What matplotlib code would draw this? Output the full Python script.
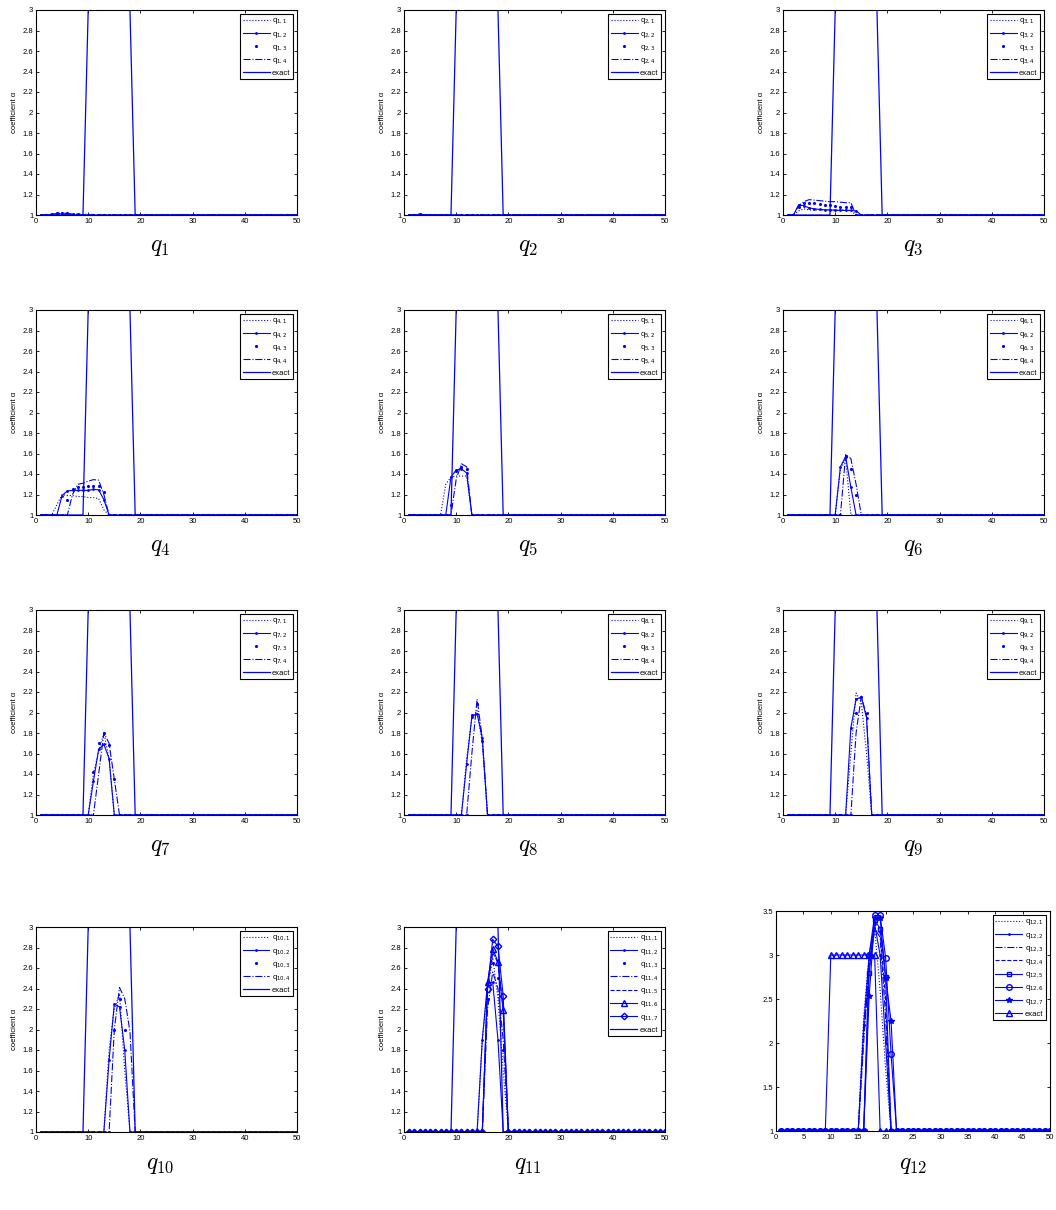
import numpy as np
import matplotlib.pyplot as plt

# x grid (iteration / node index) and exact coefficient
X = np.arange(1, 51)
EXACT = [1.0] * 9 + [3.0] * 9 + [1.0] * 32

# each reconstructed series: (first x of the bump, values); 1 elsewhere
q1 = [(3, [1.01, 1.015, 1.01, 1.01, 1.01, 1.01, 1.008, 1.008, 1.005]),
      (3, [1.005, 1.01, 1.01, 1.005]),
      (3, [1.012, 1.015, 1.02, 1.015, 1.012, 1.01]),
      (4, [1.015, 1.02, 1.015, 1.01])]
q2 = [(3, [1.01]), (3, [1.005]), (3, [1.008]), (3, [1.006])]
q3 = [(3, [1.04, 1.06, 1.05, 1.05, 1.05, 1.05, 1.05, 1.05, 1.05, 1.05, 1.04]),
      (3, [1.10, 1.09, 1.07, 1.06, 1.055, 1.05, 1.05, 1.045, 1.045, 1.045, 1.045, 1.04]),
      (3, [1.08, 1.12, 1.12, 1.12, 1.11, 1.10, 1.10, 1.09, 1.08, 1.08, 1.08]),
      (3, [1.09, 1.13, 1.15, 1.145, 1.14, 1.135, 1.13, 1.13, 1.125, 1.12, 1.12])]
q4 = [(4, [1.1, 1.2, 1.19, 1.19, 1.18, 1.18, 1.17, 1.17, 1.16, 1.05]),
      (5, [1.19, 1.235, 1.24, 1.24, 1.24, 1.24, 1.25, 1.245, 1.15]),
      (6, [1.15, 1.25, 1.27, 1.27, 1.28, 1.28, 1.28, 1.22]),
      (7, [1.2, 1.3, 1.31, 1.33, 1.345, 1.34, 1.2])]
q5 = [(8, [1.3, 1.37, 1.38, 1.38, 1.38]),
      (9, [1.37, 1.44, 1.45, 1.41]),
      (9, [1.1, 1.43, 1.47, 1.45]),
      (10, [1.35, 1.5, 1.47])]
q6 = [(11, [1.45, 1.55]),
      (11, [1.47, 1.57, 1.27]),
      (12, [1.58, 1.45, 1.2]),
      (12, [1.59, 1.55, 1.3])]
q7 = [(11, [1.4, 1.62, 1.8, 1.55]),
      (11, [1.33, 1.64, 1.69, 1.55]),
      (11, [1.42, 1.7, 1.8, 1.68, 1.35]),
      (12, [1.4, 1.8, 1.7, 1.35])]
q8 = [(12, [1.55, 1.95, 2.02, 1.7]),
      (12, [1.5, 1.96, 1.99, 1.75]),
      (13, [1.98, 2.08, 1.72]),
      (13, [1.6, 2.13, 1.75])]
q9 = [(13, [1.6, 2.19, 2.1, 1.6]),
      (13, [1.85, 2.13, 2.15, 1.95]),
      (14, [2.0, 2.15, 2.0]),
      (14, [1.8, 2.16, 1.97])]
q10 = [(14, [1.8, 2.2, 2.35, 1.6]),
       (14, [1.7, 2.25, 2.22, 1.8]),
       (15, [2.0, 2.3, 2.0]),
       (15, [2.0, 2.41, 2.3, 1.98])]
q11 = [(15, [1.9, 2.4, 2.7, 2.3, 1.6]),
       (15, [1.9, 2.45, 2.46, 1.9]),
       (16, [2.3, 2.65, 2.5, 1.8]),
       (16, [2.2, 2.56, 2.4, 1.9]),
       (16, [2.4, 2.75, 2.65, 2.2]),
       (16, [2.46, 2.79, 2.66, 2.19]),
       (16, [2.40, 2.88, 2.81, 2.33])]
q12 = [(16, [2.3, 3.0, 3.3, 2.6, 1.7]),
       (16, [2.2, 3.0, 3.35, 3.0, 2.0]),
       (16, [2.0, 2.9, 3.3, 3.2, 2.3]),
       (16, [2.1, 2.85, 3.28, 3.25, 2.5]),
       (17, [2.79, 3.40, 3.3, 2.75]),
       (17, [3.0, 3.45, 3.45, 2.97, 1.87]),
       (17, [2.53, 3.42, 3.42, 2.74, 2.25])]

PANELS = [q1, q2, q3, q4, q5, q6, q7, q8, q9, q10, q11, q12]

STY4 = [dict(ls=':', marker=''), dict(ls='-', marker='.', ms=2),
        dict(ls='none', marker='.', ms=2.5), dict(ls='-.', marker='')]
STY11 = STY4 + [dict(ls='--', marker=''), dict(ls='-', marker='^', ms=4, mfc='none'),
                dict(ls='-', marker='D', ms=3.3, mfc='none')]
STY12 = [dict(ls=':', marker=''), dict(ls='-', marker='.', ms=2),
         dict(ls='-.', marker=''), dict(ls='--', marker=''),
         dict(ls='-', marker='s', ms=3.5, mfc='none'), dict(ls='-', marker='o', ms=4, mfc='none'),
         dict(ls='-', marker='*', ms=4)]


def series(start, vals):
    y = np.ones(len(X))
    y[start - 1:start - 1 + len(vals)] = vals
    return y


W, H = 1056, 1210
fig = plt.figure(figsize=(W / 100, H / 100), dpi=100)
plt.rcParams['font.family'] = ['Liberation Sans', 'DejaVu Sans']

cols = [36, 404, 783]
tops = [10, 310, 610, 927]
pw, ph = 261, 205
cap_x = [160, 528, 913]

for i, data in enumerate(PANELS):
    r, c = divmod(i, 3)
    n = i + 1
    if n == 12:
        l, t, w, h = 776, 911, 274, 220
    else:
        l, t, w, h = cols[c], tops[r], pw, ph
    ax = fig.add_axes([l / W, 1 - (t + h) / H, w / W, h / H])
    styles = STY11 if n == 11 else (STY12 if n == 12 else STY4)
    for k, (s, v) in enumerate(data):
        ax.plot(X, series(s, v), color='b', lw=0.8,
                label='q$_{%d,%d}$' % (n, k + 1), **styles[k])
    if n == 12:
        ax.plot(X, EXACT, color='b', lw=0.8, marker='^', ms=4, mfc='none', label='exact')
        ax.set_ylim(1, 3.5)
        ax.set_yticks([1, 1.5, 2, 2.5, 3, 3.5])
        ax.set_yticklabels(['1', '1.5', '2', '2.5', '3', '3.5'])
        ax.set_xticks(range(0, 51, 5))
    else:
        ax.plot(X, EXACT, color='b', lw=0.9, label='exact')
        ax.set_ylim(1, 3)
        yt = [1, 1.2, 1.4, 1.6, 1.8, 2, 2.2, 2.4, 2.6, 2.8, 3]
        ax.set_yticks(yt)
        ax.set_yticklabels(['%g' % v for v in yt])
        ax.set_xticks(range(0, 51, 10))
        ax.set_ylabel('coefficient \u03b1', fontsize=5.5, labelpad=3)
    ax.set_xlim(0, 50)
    ax.tick_params(direction='in', top=True, right=True, labelsize=5.5,
                   length=2.5, width=0.6, pad=2)
    for sp in ax.spines.values():
        sp.set_linewidth(0.8)
    leg = ax.legend(loc='upper right', fontsize=5.5, handlelength=3.5, fancybox=False,
                    edgecolor='k', framealpha=1, borderpad=0.35, labelspacing=0.45,
                    handletextpad=0.3, borderaxespad=0.5)
    leg.get_frame().set_linewidth(0.8)
    cap_y = 1165 if r == 3 else t + h + 32
    fig.text(cap_x[c] / W, 1 - cap_y / H, r'$q_{%d}$' % n, fontsize=17,
             math_fontfamily='cm', ha='center', va='center')

fig.savefig('out.png', dpi=100)
